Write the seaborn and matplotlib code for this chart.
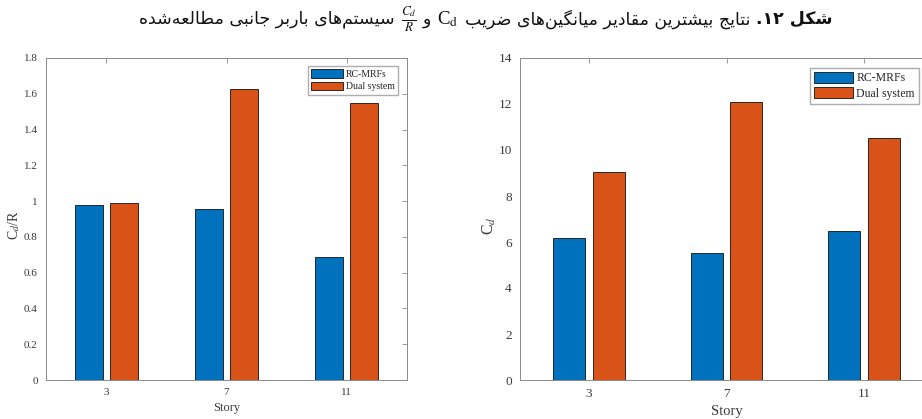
import re
import matplotlib
matplotlib.use("Agg")
import matplotlib.pyplot as plt
import seaborn as sns
import pandas as pd

# values
stories = ["3", "7", "11"]
systems = ["RC-MRFs", "Dual system"]
cd_over_r_rc = [0.977, 0.955, 0.688]
cd_over_r_dual = [0.991, 1.629, 1.549]
cd_rc = [6.17, 5.53, 6.46]
cd_dual = [9.03, 12.10, 10.52]

colors = ["#0072BD", "#D95319"]

title_bold = "شکل ۱۲."
title_part1 = "نتایج بیشترین مقادیر میانگین‌های ضریب"
title_part2 = "و"
title_part3 = "سیستم‌های باربر جانبی مطالعه‌شده"

# Arabic presentation forms (isolated, final, initial, medial)
FORMS = {
    "\u0627": ("\uFE8D", "\uFE8E", None, None),
    "\u062F": ("\uFEA9", "\uFEAA", None, None),
    "\u0631": ("\uFEAD", "\uFEAE", None, None),
    "\u0648": ("\uFEED", "\uFEEE", None, None),
    "\u0628": ("\uFE8F", "\uFE90", "\uFE91", "\uFE92"),
    "\u062A": ("\uFE95", "\uFE96", "\uFE97", "\uFE98"),
    "\u062C": ("\uFE9D", "\uFE9E", "\uFE9F", "\uFEA0"),
    "\u0633": ("\uFEB1", "\uFEB2", "\uFEB3", "\uFEB4"),
    "\u0634": ("\uFEB5", "\uFEB6", "\uFEB7", "\uFEB8"),
    "\u0636": ("\uFEBD", "\uFEBE", "\uFEBF", "\uFEC0"),
    "\u0637": ("\uFEC1", "\uFEC2", "\uFEC3", "\uFEC4"),
    "\u0639": ("\uFEC9", "\uFECA", "\uFECB", "\uFECC"),
    "\u0642": ("\uFED5", "\uFED6", "\uFED7", "\uFED8"),
    "\u0644": ("\uFEDD", "\uFEDE", "\uFEDF", "\uFEE0"),
    "\u0645": ("\uFEE1", "\uFEE2", "\uFEE3", "\uFEE4"),
    "\u0646": ("\uFEE5", "\uFEE6", "\uFEE7", "\uFEE8"),
    "\u0647": ("\uFEE9", "\uFEEA", "\uFEEB", "\uFEEC"),
    "\u06A9": ("\uFB8E", "\uFB8F", "\uFB90", "\uFB91"),
    "\u06AF": ("\uFB92", "\uFB93", "\uFB94", "\uFB95"),
    "\u06CC": ("\uFBFC", "\uFBFD", "\uFBFE", "\uFBFF"),
}


def rtl(s):
    # shape the letters, then lay the run out right to left
    out = []
    for i, ch in enumerate(s):
        if ch not in FORMS:
            out.append(ch)
            continue
        prev = s[i - 1] if i > 0 else ""
        nxt = s[i + 1] if i + 1 < len(s) else ""
        jp = prev in FORMS and FORMS[prev][2] is not None
        jn = FORMS[ch][2] is not None and nxt in FORMS
        iso, fin, ini, med = FORMS[ch]
        if jp and jn:
            out.append(med)
        elif jp:
            out.append(fin)
        elif jn:
            out.append(ini)
        else:
            out.append(iso)
    out = "".join(c for c in out if c != "\u200c")
    tokens = re.findall(r"[0-9\u06f0-\u06f9]+|.", out)
    return "".join(reversed(tokens))


sns.set_style("white")
plt.rcParams["font.family"] = ["Liberation Serif", "DejaVu Sans"]
plt.rcParams["mathtext.fontset"] = "stix"

df_left = pd.DataFrame({
    "Story": stories * 2,
    "System": [systems[0]] * 3 + [systems[1]] * 3,
    "value": cd_over_r_rc + cd_over_r_dual,
})
df_right = pd.DataFrame({
    "Story": stories * 2,
    "System": [systems[0]] * 3 + [systems[1]] * 3,
    "value": cd_rc + cd_dual,
})

fig = plt.figure(figsize=(9.22, 4.19), dpi=100)
ax1 = fig.add_axes([46 / 922, 39 / 419, 361 / 922, 322 / 419])
ax2 = fig.add_axes([520 / 922, 39 / 419, 413 / 922, 322 / 419])

text_c = "#3a3a3a"
spine_c = "#8a8a8a"

for ax, df, ymax, yticks, ylab, fs, anchor, lab_x in [
    (ax1, df_left, 1.8, [0, 0.2, 0.4, 0.6, 0.8, 1, 1.2, 1.4, 1.6, 1.8],
     r"C$_d$/R", 8, (0.975, 0.975), -0.066),
    (ax2, df_right, 14, [0, 2, 4, 6, 8, 10, 12, 14],
     r"C$_d$", 9.5, (0.966, 0.969), -0.053),
]:
    sns.barplot(data=df, x="Story", y="value", hue="System", order=stories,
                hue_order=systems, palette=colors, width=0.58, gap=0.2,
                edgecolor="#111111", linewidth=0.6, saturation=1, ax=ax)
    ax.set_xlim(-0.5, 2.5)
    ax.set_ylim(0, ymax)
    ax.set_yticks(yticks)
    ax.set_yticklabels([("%g" % v) for v in yticks])
    ax.tick_params(direction="in", length=3.5, width=0.6, colors=spine_c,
                   labelcolor=text_c, labelsize=fs, top=True, right=True,
                   pad=6)
    for sp in ax.spines.values():
        sp.set_visible(True)
        sp.set_color(spine_c)
        sp.set_linewidth(0.7)
    ax.set_xlabel("Story", fontsize=fs + 1, color=text_c, labelpad=3)
    ax.set_ylabel(ylab, fontsize=fs + 2, color=text_c)
    ax.yaxis.set_label_coords(lab_x, 0.48)
    ax.legend(loc="upper right", bbox_to_anchor=anchor, borderaxespad=0,
              fontsize=fs - 1, frameon=True, fancybox=False,
              edgecolor="#999999", handlelength=3.3, handleheight=1.0,
              handletextpad=0.25, labelspacing=0.25, borderpad=0.35)

# title: Persian, right to left, pieces placed from the right
pieces = [
    (rtl(title_bold), dict(family="DejaVu Sans", weight="bold", size=12.5)),
    (rtl(title_part1), dict(family="DejaVu Sans", size=12.5)),
    (r"C$_\mathrm{d}$", dict(family="Liberation Serif", size=13.5)),
    (rtl(title_part2), dict(family="DejaVu Sans", size=12.5)),
    (r"$\frac{C_d}{R}$", dict(size=13.5)),
    (rtl(title_part3), dict(family="DejaVu Sans", size=12.5)),
]
gap_px = 6
y_title = 1 - 19 / 419
texts = [fig.text(0, y_title, s, ha="right", va="center", color="#111111", **kw)
         for s, kw in pieces]
renderer = fig.canvas.get_renderer()
widths = [t.get_window_extent(renderer).width for t in texts]
total = sum(widths) + gap_px * (len(widths) - 1)
x = 486 + total / 2
for t, w in zip(texts, widths):
    t.set_x(x / 922)
    x -= w + gap_px

fig.savefig("out.png", dpi=100)
